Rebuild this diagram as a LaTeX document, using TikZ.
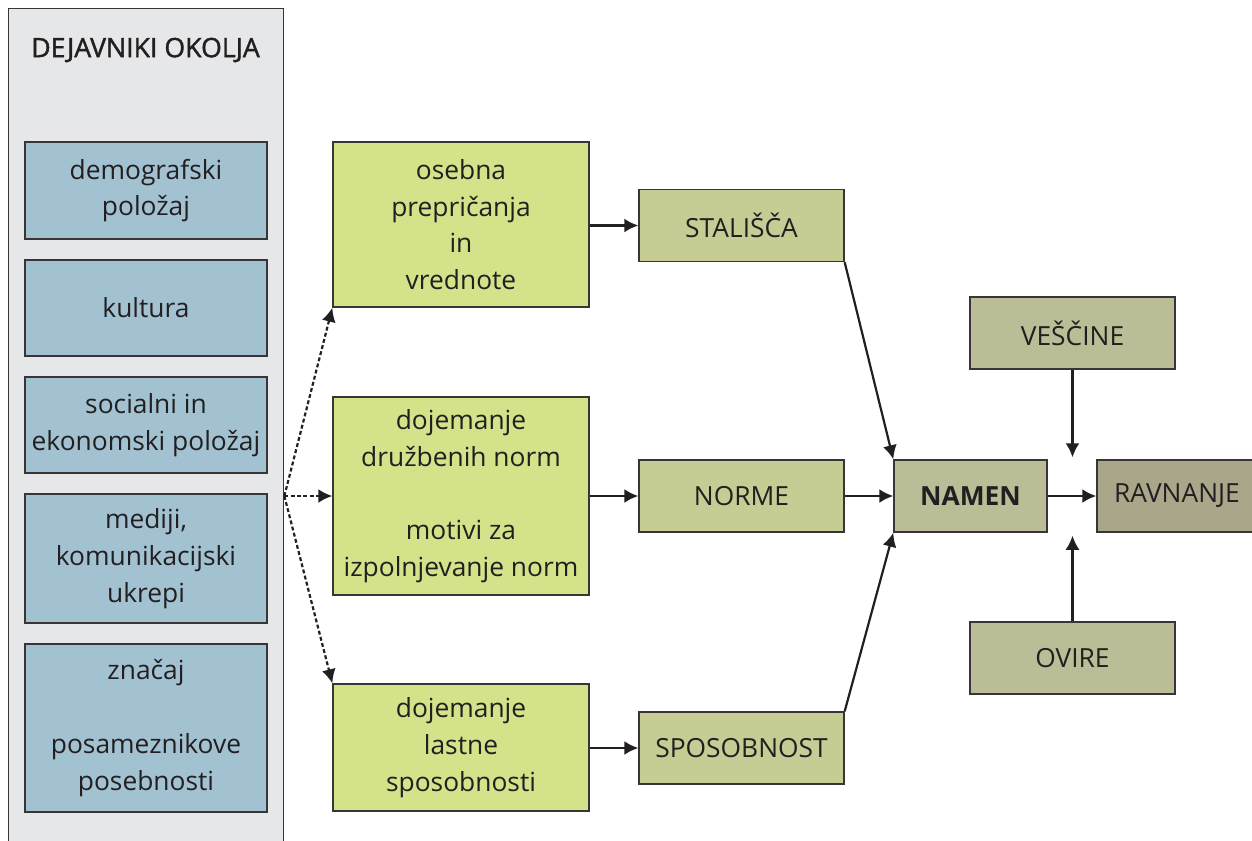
\documentclass[tikz,border=0pt]{standalone}
\usepackage{fontspec}
\setmainfont{Open Sans}
\usepackage{tikz}
\usetikzlibrary{arrows.meta,positioning,calc}

\definecolor{sivo}{HTML}{E6E7E8}
\definecolor{modro}{HTML}{A2C2D2}
\definecolor{zeleno}{HTML}{D4E28A}
\definecolor{olivno}{HTML}{C6CC93}
\definecolor{olivnotemno}{HTML}{BBBD96}
\definecolor{rjavo}{HTML}{A9A68A}
\definecolor{crta}{HTML}{231F20}

\tikzset{
    box/.style={draw=crta!90, line width=0.8pt, align=center, inner sep=2pt, text=crta,
        font=\fontsize{15}{20.9}\selectfont},
    panel/.style={draw=crta!90, line width=0.8pt, fill=sivo},
    okolje/.style={box, fill=modro, minimum width=4.84cm},
    dojem/.style={box, fill=zeleno, minimum width=5.12cm},
    dejavnik/.style={box, fill=olivno, minimum width=4.1cm, minimum height=1.44cm},
    pogoj/.style={box, fill=olivnotemno, minimum width=4.1cm, minimum height=1.44cm},
    puscica/.style={draw=crta, line width=1.25pt, -{Latex[length=8pt,width=8pt]}},
    crtkana/.style={puscica, dash pattern=on 2.2pt off 1.4pt}
}

\begin{document}
\begin{tikzpicture}[x=0.02cm, y=-0.02cm]
    \useasboundingbox (0,0) rectangle (1252,840);

    % dejavniki okolja
    \node[panel, minimum width=5.5cm, minimum height=16.84cm, anchor=north west] (okolica) at (8,8) {};
    \node[text=crta, font=\fontsize{15.2}{20}\selectfont\addfontfeature{FakeBold=1.5}] (naslov) at (145.5,50) {DEJAVNIKI OKOLJA};
    \node[okolje, minimum height=1.94cm] (demografski) at (146,190.5) {demografski\\položaj};
    \node[okolje, minimum height=1.92cm] (kultura) at (146,308) {kultura};
    \node[okolje, minimum height=1.92cm] (socialni) at (146,425) {socialni in\\ekonomski položaj};
    \node[okolje, minimum height=2.58cm] (mediji) at (146,558.5) {mediji,\\komunikacijski\\ukrepi};
    \node[okolje, minimum height=3.36cm] (znacaj) at (146,728) {značaj\\~\\posameznikove\\posebnosti};

    % prepricanja, norme, sposobnost
    \node[dojem, minimum height=3.3cm] (prepricanja) at (461,224.5) {osebna\\prepričanja\\in\\vrednote};
    \node[dojem, minimum height=3.96cm] (druzbene) at (461,496) {dojemanje\\družbenih norm\\~\\motivi za\\izpolnjevanje norm};
    \node[dojem, minimum height=2.54cm] (lastne) at (461,747.5) {dojemanje\\lastne\\sposobnosti};

    \node[dejavnik] (stalisca) at (741.5,225.5) {STALIŠČA};
    \node[dejavnik] (norme) at (741.5,496) {NORME};
    \node[dejavnik] (sposobnost) at (741.5,748) {SPOSOBNOST};

    % namen in ravnanje
    \node[pogoj, minimum width=3.06cm, font=\fontsize{15}{20.9}\selectfont\bfseries] (namen) at (970.5,496) {NAMEN};
    \node[box, fill=rjavo, minimum width=3.2cm, minimum height=1.44cm] (ravnanje) at (1177,496) {RAVNANJE};
    \node[pogoj] (vescine) at (1072.5,333) {VEŠČINE};
    \node[pogoj] (ovire) at (1072.5,658) {OVIRE};

    \coordinate (izvor) at (okolica.east |- druzbene.west);
    \draw[crtkana] (izvor) -- (prepricanja.south west);
    \draw[crtkana] (izvor) -- (druzbene.west);
    \draw[crtkana] (izvor) -- (lastne.north west);

    \draw[puscica] (prepricanja.east |- stalisca.west) -- (stalisca.west);
    \draw[puscica] (druzbene.east |- norme.west) -- (norme.west);
    \draw[puscica] (lastne.east |- sposobnost.west) -- (sposobnost.west);

    \draw[puscica] (stalisca.south east) -- (namen.north west);
    \draw[puscica] (norme) -- (namen);
    \draw[puscica] (sposobnost.north east) -- (namen.south west);
    \draw[puscica] (namen) -- (ravnanje);

    \coordinate (nad) at ($(vescine.south |- namen.north)+(0,-2)$);
    \coordinate (pod) at ($(ovire.north |- namen.south)+(0,3)$);
    \draw[puscica] (vescine) -- (nad);
    \draw[puscica] (ovire) -- (pod);
\end{tikzpicture}
\end{document}
